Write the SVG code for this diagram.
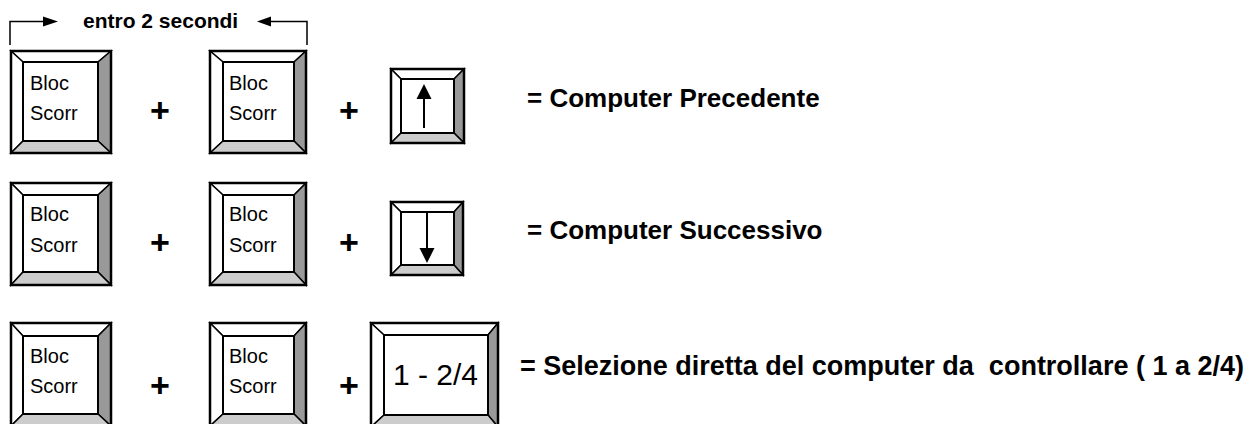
<svg xmlns="http://www.w3.org/2000/svg" width="1258" height="424" viewBox="0 0 1258 424">
<style>
.bv{stroke:#000;stroke-width:1.5;stroke-linejoin:miter}
.lt{fill:#fff}
.dk{fill:#999}
.md{fill:#ccc}
.out{fill:none;stroke:#000;stroke-width:2.5}
.inn{fill:#fff;stroke:#000;stroke-width:2}
.kt{font-family:"Liberation Sans",Arial,sans-serif;font-size:20px;fill:#000}
.big{font-family:"Liberation Sans",Arial,sans-serif;font-size:30px;fill:#000}
.lbl{font-family:"Liberation Sans",Arial,sans-serif;font-size:26px;font-weight:bold;fill:#000}
.lbl3{font-size:27px}
.plus{font-family:"Liberation Sans",Arial,sans-serif;font-size:34px;font-weight:bold;fill:#000;text-anchor:middle}
.hdr{font-family:"Liberation Sans",Arial,sans-serif;font-size:21px;font-weight:bold;fill:#000}
.ln{fill:none;stroke:#000;stroke-width:1.5}
</style>
<rect width="1258" height="424" fill="#fff"/>

<g id="connectors">
<polyline class="ln" points="10,45 10,21.5 44,21.5"/>
<polygon points="43,16.5 58,21.5 43,26.5" fill="#000"/>
<polyline class="ln" points="307,45 307,21.5 270,21.5"/>
<polygon points="271,16.5 257,21.5 271,26.5" fill="#000"/>
</g>
<g id="hdr"><text class="hdr" x="83" y="28">entro 2 secondi</text></g>

<!-- Row 1 -->
<g id="r1k1">
<polygon class="bv lt" points="11,51 111,51 98,62 23,62"/>
<polygon class="bv lt" points="11,51 23,62 23,141 11,153"/>
<polygon class="bv dk" points="111,51 111,153 98,141 98,62"/>
<polygon class="bv md" points="11,153 111,153 98,141 23,141"/>
<rect class="out" x="11" y="51" width="100" height="102"/>
<rect class="inn" x="23" y="62" width="75" height="79"/>
<text class="kt" x="30" y="90">Bloc</text><text class="kt" x="30" y="120">Scorr</text>
</g>
<g id="r1p1"><text class="plus" x="160" y="122">+</text></g>
<g id="r1k2">
<polygon class="bv lt" points="210,51 306,51 294,62 223,62"/>
<polygon class="bv lt" points="210,51 223,62 223,141 210,153"/>
<polygon class="bv dk" points="306,51 306,153 294,141 294,62"/>
<polygon class="bv md" points="210,153 306,153 294,141 223,141"/>
<rect class="out" x="210" y="51" width="96" height="102"/>
<rect class="inn" x="223" y="62" width="71" height="79"/>
<text class="kt" x="229" y="90">Bloc</text><text class="kt" x="229" y="120">Scorr</text>
</g>
<g id="r1p2"><text class="plus" x="349" y="122">+</text></g>
<g id="r1k3">
<polygon class="bv lt" points="391,69 464,69 454,79 401,79"/>
<polygon class="bv lt" points="391,69 401,79 401,133 391,143"/>
<polygon class="bv dk" points="464,69 464,143 454,133 454,79"/>
<polygon class="bv md" points="391,143 464,143 454,133 401,133"/>
<rect class="out" x="391" y="69" width="73" height="74"/>
<rect class="inn" x="401" y="79" width="53" height="54"/>
<line x1="424" y1="128" x2="424" y2="97" stroke="#000" stroke-width="2"/>
<polygon points="424,84 416.5,99 431.5,99" fill="#000"/>
</g>
<g id="r1t"><text class="lbl" x="527" y="107">= Computer Precedente</text></g>

<!-- Row 2 -->
<g id="r2k1">
<polygon class="bv lt" points="11,183 111,183 98,195 23,195"/>
<polygon class="bv lt" points="11,183 23,195 23,272 11,285"/>
<polygon class="bv dk" points="111,183 111,285 98,272 98,195"/>
<polygon class="bv md" points="11,285 111,285 98,272 23,272"/>
<rect class="out" x="11" y="183" width="100" height="102"/>
<rect class="inn" x="23" y="195" width="75" height="77"/>
<text class="kt" x="30" y="221">Bloc</text><text class="kt" x="30" y="252">Scorr</text>
</g>
<g id="r2p1"><text class="plus" x="160" y="254">+</text></g>
<g id="r2k2">
<polygon class="bv lt" points="210,183 306,183 294,195 223,195"/>
<polygon class="bv lt" points="210,183 223,195 223,272 210,285"/>
<polygon class="bv dk" points="306,183 306,285 294,272 294,195"/>
<polygon class="bv md" points="210,285 306,285 294,272 223,272"/>
<rect class="out" x="210" y="183" width="96" height="102"/>
<rect class="inn" x="223" y="195" width="71" height="77"/>
<text class="kt" x="229" y="221">Bloc</text><text class="kt" x="229" y="252">Scorr</text>
</g>
<g id="r2p2"><text class="plus" x="349" y="254">+</text></g>
<g id="r2k3">
<polygon class="bv lt" points="391,202 463,202 454,212 401,212"/>
<polygon class="bv lt" points="391,202 401,212 401,265 391,275"/>
<polygon class="bv dk" points="463,202 463,275 454,265 454,212"/>
<polygon class="bv md" points="391,275 463,275 454,265 401,265"/>
<rect class="out" x="391" y="202" width="72" height="73"/>
<rect class="inn" x="401" y="212" width="53" height="53"/>
<line x1="427" y1="213" x2="427" y2="250" stroke="#000" stroke-width="2"/>
<polygon points="419.5,248 434.5,248 427,263" fill="#000"/>
</g>
<g id="r2t"><text class="lbl" x="527" y="239">= Computer Successivo</text></g>

<!-- Row 3 -->
<g id="r3k1">
<polygon class="bv lt" points="11,323 111,323 98,336 23,336"/>
<polygon class="bv lt" points="11,323 23,336 23,414 11,426"/>
<polygon class="bv dk" points="111,323 111,426 98,414 98,336"/>
<polygon class="bv md" points="11,426 111,426 98,414 23,414"/>
<rect class="out" x="11" y="323" width="100" height="103"/>
<rect class="inn" x="23" y="336" width="75" height="78"/>
<text class="kt" x="30" y="363">Bloc</text><text class="kt" x="30" y="393">Scorr</text>
</g>
<g id="r3p1"><text class="plus" x="160" y="397">+</text></g>
<g id="r3k2">
<polygon class="bv lt" points="210,323 306,323 294,336 223,336"/>
<polygon class="bv lt" points="210,323 223,336 223,414 210,426"/>
<polygon class="bv dk" points="306,323 306,426 294,414 294,336"/>
<polygon class="bv md" points="210,426 306,426 294,414 223,414"/>
<rect class="out" x="210" y="323" width="96" height="103"/>
<rect class="inn" x="223" y="336" width="71" height="78"/>
<text class="kt" x="229" y="363">Bloc</text><text class="kt" x="229" y="393">Scorr</text>
</g>
<g id="r3p2"><text class="plus" x="349" y="397">+</text></g>
<g id="r3k3">
<polygon class="bv lt" points="371,323 498,323 488,335 384,335"/>
<polygon class="bv lt" points="371,323 384,335 384,415 371,427"/>
<polygon class="bv dk" points="498,323 498,427 488,415 488,335"/>
<polygon class="bv md" points="371,427 498,427 488,415 384,415"/>
<rect class="out" x="371" y="323" width="127" height="104"/>
<rect class="inn" x="384" y="335" width="104" height="80"/>
<text class="big" x="393" y="385">1 - 2/4</text>
</g>
<g id="r3t"><text class="lbl lbl3" x="520" y="375" xml:space="preserve">= Selezione diretta del computer da  controllare ( 1 a 2/4)</text></g>
</svg>
